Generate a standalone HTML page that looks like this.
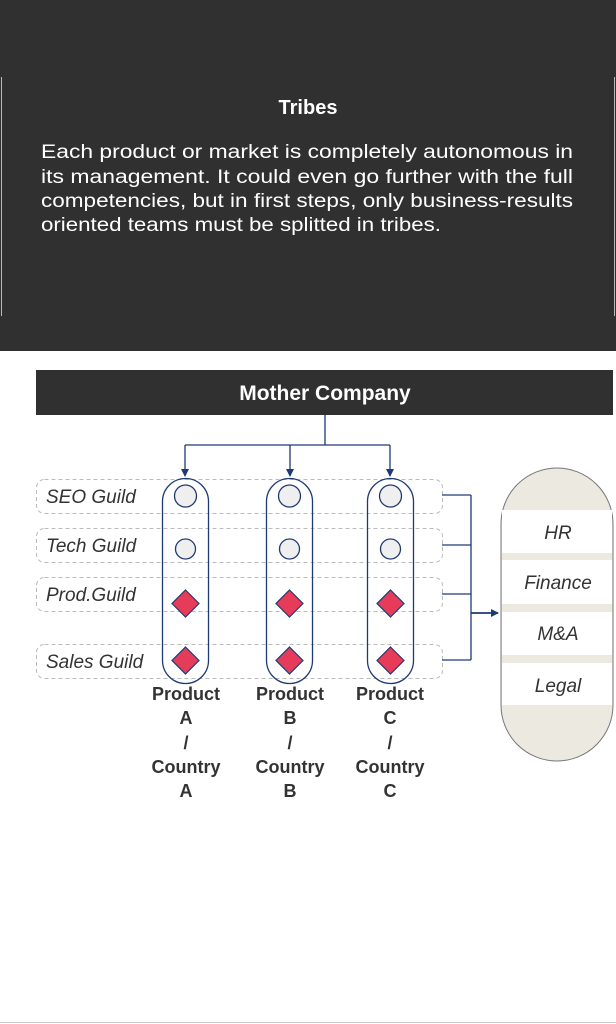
<!DOCTYPE html>
<html><head><style>
html,body{margin:0;padding:0;background:#fff;}
svg{display:block;font-family:"Liberation Sans",sans-serif;}
</style></head><body>
<svg width="616" height="1024" viewBox="0 0 616 1024" xmlns="http://www.w3.org/2000/svg">
<defs>
<marker id="ar" markerWidth="8" markerHeight="8" refX="7" refY="4" orient="auto" markerUnits="userSpaceOnUse">
<path d="M0,0 L8,4 L0,8 z" fill="#1f3a73"/></marker>
</defs>
<rect x="0" y="0" width="616" height="351" fill="#303030"/>
<line x1="1.5" y1="77" x2="1.5" y2="316" stroke="#bbb" stroke-width="1"/>
<line x1="614.5" y1="77" x2="614.5" y2="316" stroke="#bbb" stroke-width="1"/>
<text x="308" y="114" text-anchor="middle" fill="#fff" font-weight="bold" font-size="20">Tribes</text>
<g fill="#fff" font-size="19">
<text x="41" y="158" textLength="532" lengthAdjust="spacingAndGlyphs">Each product or market is completely autonomous in</text>
<text x="41" y="183" textLength="532" lengthAdjust="spacingAndGlyphs">its management. It could even go further with the full</text>
<text x="41" y="207" textLength="532" lengthAdjust="spacingAndGlyphs">competencies, but in first steps, only business-results</text>
<text x="41" y="231" textLength="400" lengthAdjust="spacingAndGlyphs">oriented teams must be splitted in tribes.</text>
</g>
<rect x="36" y="370" width="577" height="45" fill="#303030"/>
<text x="325" y="400" text-anchor="middle" fill="#fff" font-weight="bold" font-size="21">Mother Company</text>
<g stroke="#1f3a73" stroke-width="1.3" fill="none">
<path d="M325 415 V445 M185 445 H390"/>
<path d="M185 445 V476" marker-end="url(#ar)"/>
<path d="M290 445 V476" marker-end="url(#ar)"/>
<path d="M390 445 V476" marker-end="url(#ar)"/>
</g>
<g fill="none" stroke="#bbb" stroke-dasharray="4,3" stroke-width="1">
<rect x="36.5" y="479.5" width="406" height="34" rx="8"/>
<rect x="36.5" y="528.5" width="406" height="34" rx="8"/>
<rect x="36.5" y="577.5" width="406" height="34" rx="8"/>
<rect x="36.5" y="644.5" width="406" height="34" rx="8"/>
</g>
<g font-style="italic" font-size="19" fill="#333">
<text x="46" y="503">SEO Guild</text>
<text x="46" y="552">Tech Guild</text>
<text x="46" y="601">Prod.Guild</text>
<text x="46" y="668">Sales Guild</text>
</g>
<g stroke="#1f3a73" stroke-width="1.3" fill="none">
<rect x="162.5" y="478.5" width="46" height="205" rx="23"/>
<rect x="266.5" y="478.5" width="46" height="205" rx="23"/>
<rect x="367.5" y="478.5" width="46" height="205" rx="23"/>
</g>
<g fill="#efefef" stroke="#1f3a73" stroke-width="1.3">
<circle cx="185.5" cy="496" r="11"/><circle cx="289.5" cy="496" r="11"/><circle cx="390.5" cy="496" r="11"/>
<circle cx="185.5" cy="549" r="10"/><circle cx="289.5" cy="549" r="10"/><circle cx="390.5" cy="549" r="10"/>
</g>
<g fill="#e63c5a" stroke="#1f3a73" stroke-width="1.2">
<path d="M185.5 590 L199 603.5 L185.5 617 L172 603.5 z"/>
<path d="M289.5 590 L303 603.5 L289.5 617 L276 603.5 z"/>
<path d="M390.5 590 L404 603.5 L390.5 617 L377 603.5 z"/>
<path d="M185.5 647 L199 660.5 L185.5 674 L172 660.5 z"/>
<path d="M289.5 647 L303 660.5 L289.5 674 L276 660.5 z"/>
<path d="M390.5 647 L404 660.5 L390.5 674 L377 660.5 z"/>
</g>
<g stroke="#1f3a73" stroke-width="1.3" fill="none">
<path d="M442 495 H471 M442 545 H471 M442 594 H471 M442 660 H471 M471 495 V660"/>
<path d="M471 613 H498" marker-end="url(#ar)" stroke-width="1.8"/>
</g>
<path d="M501 524 A56 56 0 0 1 613 524 V705 A56 56 0 0 1 501 705 Z" fill="#ece9e1" stroke="#777" stroke-width="1"/>
<g fill="#fff">
<rect x="502" y="510" width="110" height="43"/>
<rect x="502" y="560" width="110" height="44"/>
<rect x="502" y="612" width="110" height="43"/>
<rect x="502" y="663" width="110" height="42"/>
</g>
<g font-style="italic" font-size="19" fill="#333" text-anchor="middle">
<text x="558" y="539">HR</text>
<text x="558" y="589">Finance</text>
<text x="558" y="640">M&amp;A</text>
<text x="558" y="692">Legal</text>
</g>
<g font-weight="bold" font-size="18" fill="#333" text-anchor="middle">
<text x="186" y="700">Product</text><text x="186" y="724">A</text><text x="186" y="749">/</text><text x="186" y="773">Country</text><text x="186" y="797">A</text>
<text x="290" y="700">Product</text><text x="290" y="724">B</text><text x="290" y="749">/</text><text x="290" y="773">Country</text><text x="290" y="797">B</text>
<text x="390" y="700">Product</text><text x="390" y="724">C</text><text x="390" y="749">/</text><text x="390" y="773">Country</text><text x="390" y="797">C</text>
</g>
<line x1="0" y1="1022.5" x2="616" y2="1022.5" stroke="#ccc" stroke-width="1"/>
</svg>
</body></html>
